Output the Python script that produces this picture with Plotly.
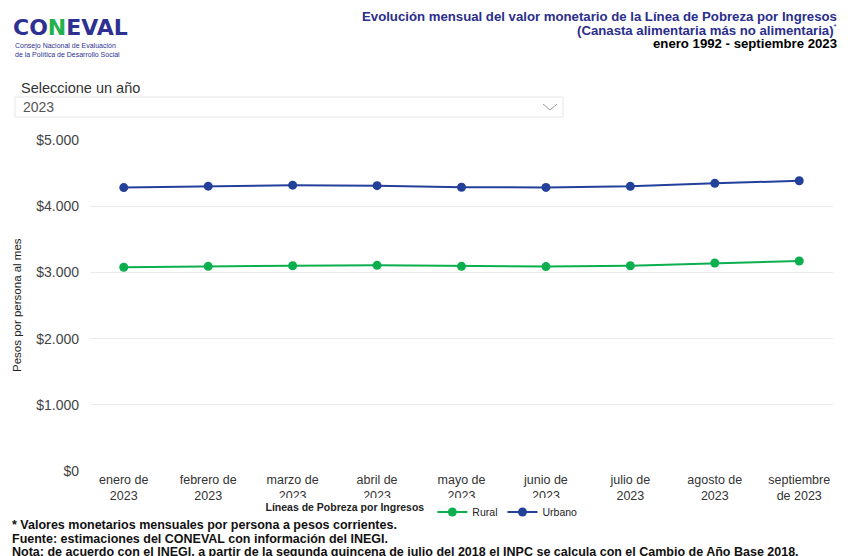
import plotly.graph_objects as go

months = ["enero de<br>2023", "febrero de<br>2023", "marzo de<br>2023", "abril de<br>2023",
          "mayo de<br>2023", "junio de<br>2023", "julio de<br>2023", "agosto de<br>2023",
          "septiembre<br>de 2023"]
rural = [3077, 3092, 3101, 3107, 3092, 3088, 3101, 3142, 3172]
urbano = [4281, 4303, 4318, 4310, 4286, 4284, 4300, 4345, 4385]
ytick_vals = [0, 1000, 2000, 3000, 4000, 5000]
ytick_text = ["$0", "$1.000", "$2.000", "$3.000", "$4.000", "$5.000"]

OFF = 8  # page body margin
W, H = 853 - OFF, 556 - OFF
# plot area in screen pixels
SL, SR, ST, SB = 90, 833, 140, 471
L, R, T, B = SL - OFF, SR - OFF, ST - OFF, SB - OFF

def px(x):
    return (x - SL) / (SR - SL)

def py(y):
    return (SB - y) / (SB - ST)

GREEN = "#0BAF4E"
BLUE = "#23409A"
TITLE_BLUE = "#2B2E8C"
FONT = "Liberation Sans, Arial, sans-serif"

fig = go.Figure()
fig.add_trace(go.Scatter(x=months, y=rural, name="Rural", mode="lines+markers",
                         line=dict(color=GREEN, width=2), marker=dict(size=9, color=GREEN)))
fig.add_trace(go.Scatter(x=months, y=urbano, name="Urbano", mode="lines+markers",
                         line=dict(color=BLUE, width=2), marker=dict(size=9, color=BLUE)))

ann = []
def add(x, y, text, size, color, xanchor="left", **kw):
    ann.append(dict(x=px(x), y=py(y), xref="paper", yref="paper", xanchor=xanchor,
                    yanchor="middle", showarrow=False, text=text,
                    font=dict(size=size, color=color, family=kw.pop("family", FONT)), **kw))

# Title
add(839, 16, "<b>Evolución mensual del valor monetario de la Línea de Pobreza por Ingresos</b>", 13.2, TITLE_BLUE, "right")
add(839, 30, "<b>(Canasta alimentaria más no alimentaria)</b><sup><span style='font-size:8px'>*</span></sup>", 13.2, TITLE_BLUE, "right")
add(839, 44, "<b>enero 1992 - septiembre 2023</b>", 13.2, "#000000", "right")
# Logo
add(11, 28, "<b><span style='color:#2E3192'>CO</span><span style='color:#22B14C'>N</span><span style='color:#2E3192'>EVAL</span></b>",
    22, "#2E3192", family="DejaVu Sans, sans-serif")
add(13, 50, "Consejo Nacional de Evaluación<br>de la Política de Desarrollo Social", 7, "#2E3192", align="left")
# Selector
add(19, 88, "Seleccione un año", 14.5, "#333333")
add(21, 107, "2023", 14, "#555555")
# Y axis title
add(17, 305, "Pesos por persona al mes", 11.5, "#222222", "center", textangle=-90,
    family="Liberation Sans Narrow, Arial Narrow, Liberation Sans, Arial")
# Footnotes
notes = ["* Valores monetarios mensuales por persona a pesos corrientes.",
         "Fuente: estimaciones del CONEVAL con información del INEGI.",
         "Nota: de acuerdo con el INEGI, a partir de la segunda quincena de julio del 2018 el INPC se calcula con el Cambio de Año Base 2018."]
for i, t in enumerate(notes):
    add(10, 525 + i * 13.5, "<b>" + t + "</b>", 12.5, "#111111")

shapes = [
    dict(type="rect", xref="paper", yref="paper", x0=px(15), x1=px(563), y0=py(97), y1=py(117),
         line=dict(color="#E6E6E6", width=1), fillcolor="rgba(0,0,0,0)"),
    dict(type="path", xref="paper", yref="paper",
         path=f"M {px(543)} {py(104)} L {px(550)} {py(110)} L {px(557)} {py(104)}",
         line=dict(color="#999999", width=1)),
]

fig.update_layout(
    width=W, height=H,
    margin=dict(l=L, r=W - R, t=T, b=H - B, autoexpand=False),
    paper_bgcolor="white", plot_bgcolor="white",
    font=dict(family=FONT),
    showlegend=True,
    legend=dict(orientation="h", x=px(423), xanchor="center", y=py(512), yanchor="middle",
                title=dict(text="<b>Líneas de Pobreza por Ingresos</b>", font=dict(size=10.5, color="#222")),
                font=dict(size=10.5, color="#222"), itemwidth=30, tracegroupgap=0),
    xaxis=dict(range=[-0.4, 8.4], showgrid=False, zeroline=False, showline=False, automargin=False,
               ticks="", tickfont=dict(size=12.5, color="#333333"), tickangle=0, ticklabelstandoff=-1),
    yaxis=dict(range=[0, 5000], tickvals=ytick_vals, ticktext=ytick_text, automargin=False,
               showgrid=True, gridcolor="#EBEBEB", zeroline=False, showline=False,
               tickfont=dict(size=14, color="#444444"), ticklabelstandoff=10),
    annotations=ann,
    shapes=shapes,
)

fig.write_html("out.html")
